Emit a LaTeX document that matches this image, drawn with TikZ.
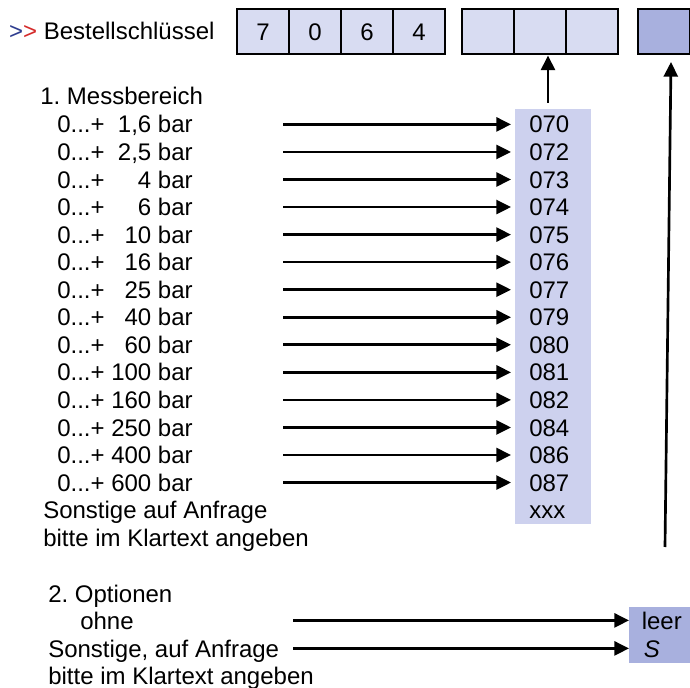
\documentclass[tikz,border=0pt]{standalone}
\usepackage{fontspec}
\setmainfont{Liberation Sans}
\usetikzlibrary{arrows.meta,calc}
\definecolor{cellc}{RGB}{216,220,242}
\definecolor{colc}{RGB}{205,209,238}
\definecolor{darkc}{RGB}{168,176,222}
\definecolor{gtblue}{RGB}{46,61,143}
\definecolor{gtred}{RGB}{212,42,42}
\frenchspacing
\tikzset{
  txt/.style={anchor=base west, inner sep=0pt, font=\fontsize{18pt}{21pt}\selectfont},
  keycell/.style={draw, line width=1.5pt, fill=cellc, minimum width=39pt, minimum height=33.75pt, inner sep=0pt, font=\fontsize{18pt}{21pt}\selectfont},
  codebox/.style={txt, inner xsep=10.5pt, inner ysep=0pt, text height=12.9pt, text depth=0pt},
  arr/.style={line width=2pt, -{Triangle[length=11pt,width=10.5pt]}},
}
\begin{document}
\begin{tikzpicture}[x=0.75pt,y=-0.75pt]
\useasboundingbox (0,0) rectangle (690,688);
\clip (0,0) rectangle (690,688);
% header
\node[txt] (title) at (8.8,40) {\textcolor{gtblue}{>}\textcolor{gtred}{>} Bestellschlüssel};
\node[keycell] (b1) at (263,32) {7};
\node[keycell] (b2) at (315,32) {0};
\node[keycell] (b3) at (367,32) {6};
\node[keycell] (b4) at (419,32) {4};
\node[keycell] (c1) at (488,32) {};
\node[keycell] (c2) at (540,32) {};
\node[keycell] (c3) at (592,32) {};
\node[keycell, fill=darkc] (d1) at (664,32) {};
% code column
\node[fill=colc, inner sep=0pt, minimum width=57pt, minimum height=311.25pt, anchor=north west] (col) at (515,109) {};
\node[txt] (m1) at (40,105) {1. Messbereich};
\foreach \c/\v [count=\i from 0] in {070/{1,6},072/{2,5},073/4,074/6,075/10,076/16,077/25,079/40,080/60,081/100,082/160,084/250,086/400,087/600}{
  \pgfmathsetmacro\yb{133+27.55*\i}
  \node[txt] (r\i) at (57,\yb) {0...+ \makebox[1.668em][r]{\v} bar};
  \node[codebox] (k\i) at (515,\yb) {\c};
  \coordinate (a\i) at ($(k\i.west)+(-232,0)$);
  \draw[arr, shorten >=3pt] (a\i) -- (k\i.west);
}
\node[codebox] (kx) at (515,{133+27.55*14}) {xxx};
\node[txt] (s1) at (43,518.7) {Sonstige auf Anfrage};
\node[txt] (s2) at (43,546.3) {bitte im Klartext angeben};
% vertical arrows
\coordinate (u0) at (548,103);
\draw[arr] (u0) -- (u0 |- c2.south);
\coordinate (v0) at (665,547);
\coordinate (v1) at (671,62);
\draw[arr] (v0) -- (v1);
% options
\node[txt] (o0) at (48,602) {2. Optionen};
\node[txt] (o1) at (80,629.5) {ohne};
\node[txt] (o2) at (48,657) {Sonstige, auf Anfrage};
\node[txt] (o3) at (48,684.5) {bitte im Klartext angeben};
\node[fill=darkc, inner sep=0pt, minimum width=46.5pt, minimum height=42pt, anchor=north west] (ob) at (629,607) {};
\node[codebox, inner xsep=9.4pt] (p1) at (629,629) {leer};
\node[codebox, inner xsep=10.9pt] (p2) at (629,657) {\textit{S}};
\coordinate (e1) at ($(p1.west)+(-336,0)$);
\coordinate (e2) at ($(p2.west)+(-336,0)$);
\draw[arr] (e1) -- (p1.west);
\draw[arr] (e2) -- (p2.west);
\end{tikzpicture}
\end{document}
